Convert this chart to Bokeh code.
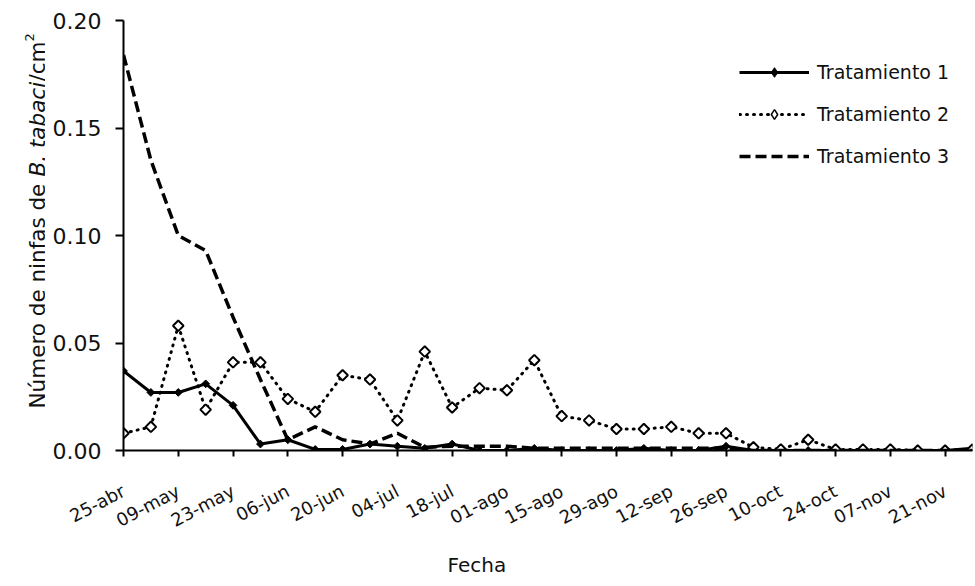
import pandas as pd
from math import pi
from bokeh.plotting import figure
from bokeh.layouts import row
from bokeh.models import FixedTicker, Range1d, Legend, LegendItem, NumeralTickFormatter, Title
from bokeh.core.properties import value
from bokeh.embed import file_html
from bokeh.resources import INLINE

# ---------------- data ----------------
sample_dates = ["2010-04-25", "2010-05-02", "2010-05-09", "2010-05-16", "2010-05-23", "2010-05-30",
                "2010-06-06", "2010-06-13", "2010-06-20", "2010-06-27", "2010-07-04", "2010-07-11",
                "2010-07-18", "2010-07-25", "2010-08-01", "2010-08-08", "2010-08-15", "2010-08-22",
                "2010-08-29", "2010-09-05", "2010-09-12", "2010-09-19", "2010-09-26", "2010-10-03",
                "2010-10-10", "2010-10-17", "2010-10-24", "2010-10-31", "2010-11-07", "2010-11-14",
                "2010-11-21", "2010-11-28"]

tratamiento1 = [0.037, 0.027, 0.027, 0.031, 0.021, 0.003, 0.005, 0.0005, 0.0005, 0.003, 0.002, 0.001,
                0.003, 0.0, 0.0, 0.001, 0.0, 0.0, 0.0, 0.001, 0.0, 0.0, 0.002, 0.0,
                0.0, 0.0, 0.0, 0.0, 0.0, 0.0, 0.0, 0.001]
tratamiento2 = [0.008, 0.011, 0.058, 0.019, 0.041, 0.041, 0.024, 0.018, 0.035, 0.033, 0.014, 0.046,
                0.020, 0.029, 0.028, 0.042, 0.016, 0.014, 0.010, 0.010, 0.011, 0.008, 0.008, 0.0015,
                0.0005, 0.005, 0.0005, 0.0005, 0.0005, 0.0, 0.0, 0.0005]
tratamiento3 = [0.184, 0.135, 0.100, 0.093, 0.062, 0.033, 0.005, 0.011, 0.005, 0.003, 0.008, 0.0015,
                0.002, 0.002, 0.002, 0.001, 0.001, 0.001, 0.001, 0.001, 0.001, 0.001, 0.001, 0.0,
                0.0, 0.0, 0.0, 0.0, 0.0, 0.0, 0.0, 0.0]

tick_dates = ["2010-04-25", "2010-05-09", "2010-05-23", "2010-06-06", "2010-06-20", "2010-07-04",
              "2010-07-18", "2010-08-01", "2010-08-15", "2010-08-29", "2010-09-12", "2010-09-26",
              "2010-10-10", "2010-10-24", "2010-11-07", "2010-11-21"]
tick_labels = ["25-abr", "09-may", "23-may", "06-jun", "20-jun", "04-jul", "18-jul", "01-ago",
               "15-ago", "29-ago", "12-sep", "26-sep", "10-oct", "24-oct", "07-nov", "21-nov"]
y_ticks = [0.0, 0.05, 0.10, 0.15, 0.20]
series_names = ["Tratamiento 1", "Tratamiento 2", "Tratamiento 3"]
x_title = "Fecha"
# y-axis title pieces: (text, font style)
y_title_parts = [("Número de ninfas de ", "normal"), ("B. tabaci", "italic"), ("/cm", "normal"), ("2", "sup")]

# ---------------- layout constants ----------------
FONT = "DejaVu Sans"
TXT = "#111111"
H = 586
TOP, BOTTOM = 20, 136          # borders of the plot frame (page px)
STRIP_W = 45                   # width of the y-title strip

t0 = pd.Timestamp(sample_dates[0])
x_days = [(pd.Timestamp(d) - t0).days for d in sample_dates]
tick_days = [(pd.Timestamp(d) - t0).days for d in tick_dates]

# ---------------- main chart ----------------
p = figure(width=975 - STRIP_W, height=H, output_backend="svg", toolbar_location=None,
           x_range=Range1d(0, x_days[-1]), y_range=Range1d(0, 0.2),
           min_border_left=123 - STRIP_W, min_border_right=3,
           min_border_top=TOP, min_border_bottom=BOTTOM)
p.outline_line_color = None
p.xgrid.visible = False
p.ygrid.visible = False

l1 = p.line(x_days, tratamiento1, line_color="black", line_width=3)
# diamond markers used for the legend swatch (covered by the markers drawn on top)
lg1 = p.scatter(x_days, tratamiento1, marker="diamond", size=5, fill_color="black", line_color="black")
s1 = p.scatter(x_days, tratamiento1, marker="square", angle=pi / 4, size=5.5,
               fill_color="black", line_color="black", line_width=1)
l2 = p.line(x_days, tratamiento2, line_color="black", line_width=3, line_dash="1 6", line_cap="round")
lg2 = p.scatter(x_days, tratamiento2, marker="diamond", size=6, fill_color="white",
                line_color="black", line_width=1.5)
s2 = p.scatter(x_days, tratamiento2, marker="square", angle=pi / 4, size=7.5,
               fill_color="white", line_color="black", line_width=2)
l3 = p.line(x_days, tratamiento3, line_color="black", line_width=3.5, line_dash="11 5")

xa = p.xaxis[0]
xa.ticker = FixedTicker(ticks=tick_days)
xa.major_label_overrides = {d: lab for d, lab in zip(tick_days, tick_labels)}
xa.major_label_orientation = pi / 6.5
xa.minor_tick_line_color = None
xa.major_tick_in = 0
xa.major_tick_out = 6
xa.major_tick_line_width = 2
xa.axis_line_width = 2
xa.axis_line_color = "black"
xa.major_tick_line_color = "black"
xa.major_label_text_font = FONT
xa.major_label_text_font_size = "18px"
xa.major_label_text_color = TXT
xa.major_label_standoff = 33

ya = p.yaxis[0]
ya.ticker = FixedTicker(ticks=y_ticks)
ya.formatter = NumeralTickFormatter(format="0.00")
ya.minor_tick_line_color = None
ya.major_tick_in = 0
ya.major_tick_out = 8
ya.major_tick_line_width = 2
ya.axis_line_width = 2
ya.axis_line_color = "black"
ya.major_tick_line_color = "black"
ya.major_label_text_font = FONT
ya.major_label_text_font_size = "22px"
ya.major_label_text_color = TXT
ya.major_label_standoff = 14

# x-axis title
p.add_layout(Title(text=x_title, align="left", offset=324, standoff=17,
                   text_font=FONT, text_font_size="20px", text_font_style="normal",
                   text_color=TXT), "below")

legend = Legend(items=[LegendItem(label=series_names[0], renderers=[l1, lg1]),
                       LegendItem(label=series_names[1], renderers=[l2, lg2]),
                       LegendItem(label=series_names[2], renderers=[l3])],
                location=(616, 282))
legend.border_line_color = None
legend.background_fill_alpha = 0
legend.padding = 0
legend.margin = 0
legend.glyph_width = 70
legend.glyph_height = 24
legend.label_height = 24
legend.spacing = 18
legend.label_standoff = 8
legend.label_text_font = FONT
legend.label_text_font_size = "19px"
legend.label_text_color = TXT
p.add_layout(legend, "center")

# ---------------- y-axis title strip (frame aligned with the chart frame) ----------------
tf = figure(width=STRIP_W, height=H, output_backend="svg", toolbar_location=None,
            x_range=Range1d(0, STRIP_W), y_range=Range1d(BOTTOM, H - TOP),
            x_axis_type=None, y_axis_type=None,
            min_border_left=0, min_border_right=0, min_border_top=TOP, min_border_bottom=BOTTOM)
tf.outline_line_color = None
part_start = [178, 410, 505, 545]   # page y measured upward from the bottom of the page
for (txt, style), y0 in zip(y_title_parts, part_start):
    is_sup = style == "sup"
    tf.text(x=[29 if is_sup else 37], y=[y0], text=[txt], angle=pi / 2,
            text_font=value(FONT), text_font_style="normal" if is_sup else style,
            text_font_size="13px" if is_sup else "21.5px",
            text_color=TXT, text_align="left", text_baseline="alphabetic")

layout = row(tf, p)
open("out.html", "w").write(file_html(layout, INLINE))
